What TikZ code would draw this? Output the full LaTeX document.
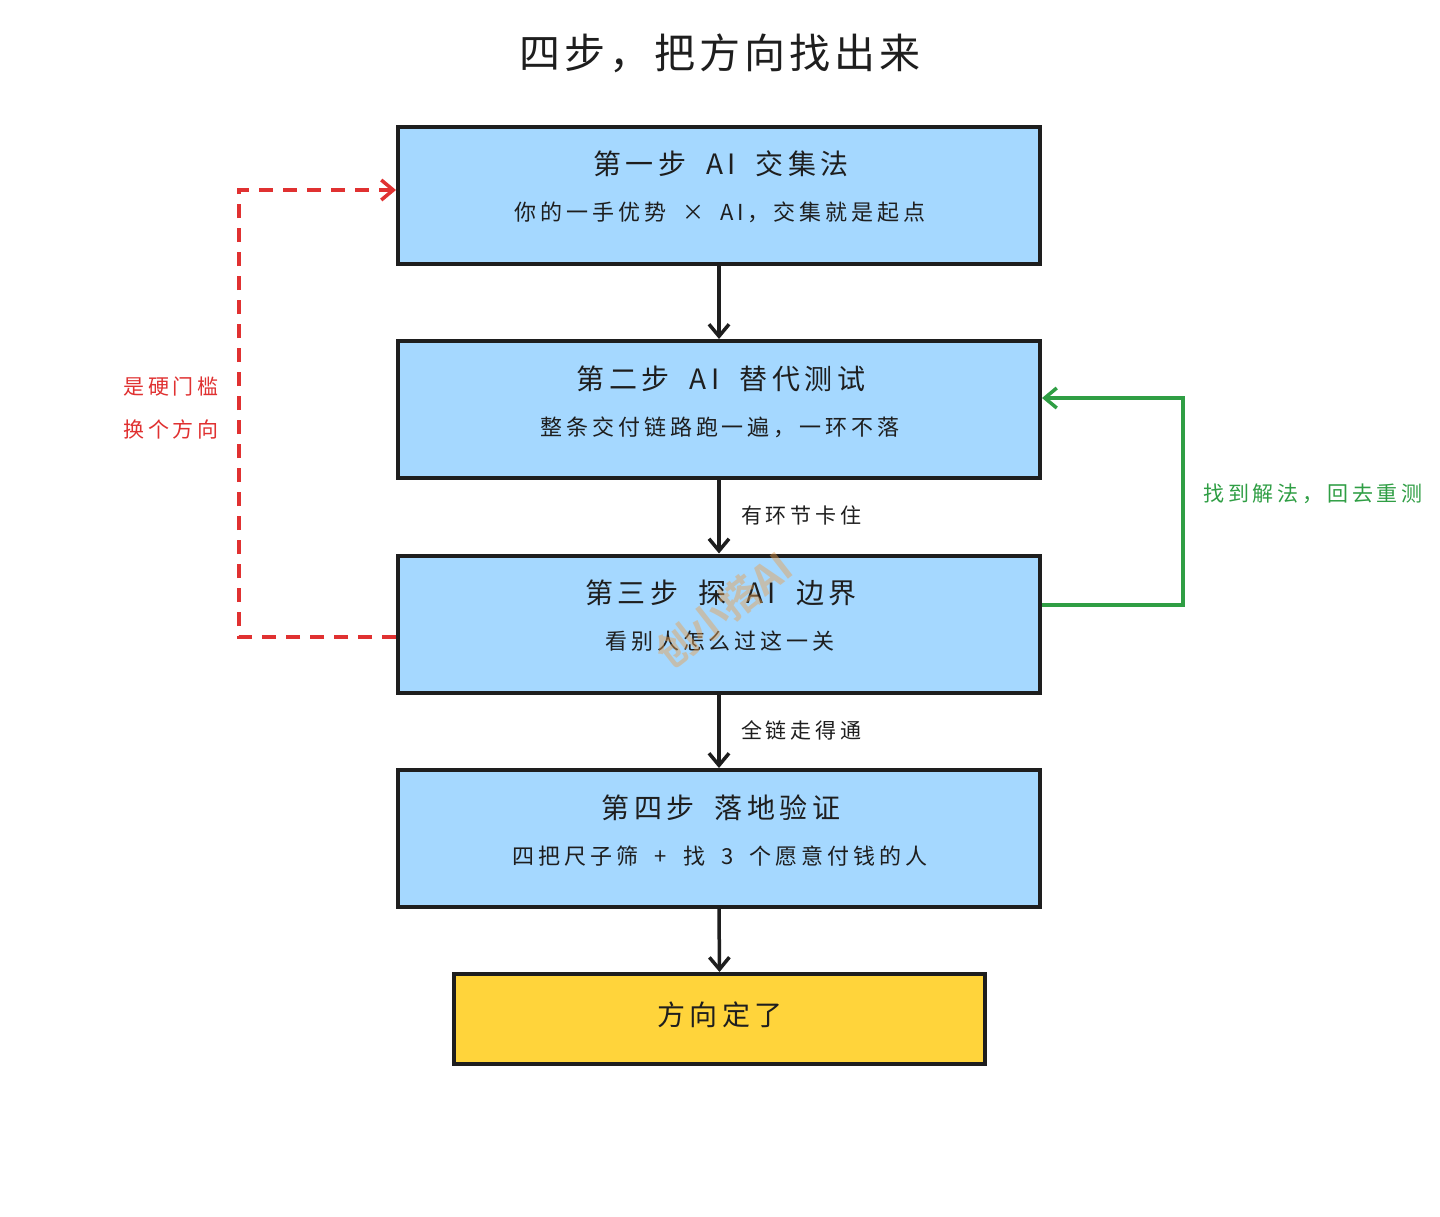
\documentclass[tikz,border=0pt]{standalone}
\usepackage{fontspec}
\newfontfamily\cjkt{Noto Sans CJK SC}[LetterSpace=16]
\newfontfamily\cjks{Noto Sans CJK SC}[LetterSpace=18]
\newfontfamily\cjkh{Noto Sans CJK SC}[LetterSpace=10]
\newfontfamily\cjkb{Noto Sans CJK SC}[BoldFont={* Bold}]
\usetikzlibrary{arrows.meta}
\definecolor{ink}{HTML}{1E1E1E}
\definecolor{boxblue}{HTML}{A5D8FF}
\definecolor{boxyellow}{HTML}{FFD43B}
\definecolor{redline}{HTML}{E03131}
\definecolor{greenline}{HTML}{2F9E44}
\definecolor{wm}{HTML}{E8A050}
\newcommand{\tgap}{\hspace{20pt}}
\newcommand{\sgap}{\hspace{16pt}}
\tikzset{
  stepbox/.style={draw=ink, line width=4pt, fill=boxblue, minimum width=642pt, minimum height=137pt, inner sep=0pt},
  endbox/.style={draw=ink, line width=4pt, fill=boxyellow, minimum width=531pt, minimum height=90pt, inner sep=0pt},
  ttl/.style={font=\cjkt\fontsize{28}{32}\selectfont, text=ink, inner sep=0pt},
  sub/.style={font=\cjks\fontsize{22}{26}\selectfont, text=ink, inner sep=0pt},
  lbl/.style={font=\cjks\fontsize{21}{24}\selectfont, inner sep=0pt},
  arr/.style={draw=ink, line width=3.5pt, -{Straight Barb[length=12pt,width=20pt,line width=3.5pt]}},
  redarr/.style={draw=redline, line width=3.5pt, dash pattern=on 14pt off 10pt, -{Straight Barb[length=12pt,width=20pt,line width=3.5pt]}},
  greenarr/.style={draw=greenline, line width=3.5pt, -{Straight Barb[length=12pt,width=20pt,line width=3.5pt]}}
}
\begin{document}
\begin{tikzpicture}[x=1pt,y=-1pt]
\useasboundingbox[fill=white] (0,0) rectangle (1440,1216);
\node[font=\cjkh\fontsize{41}{46}\selectfont, text=ink, inner sep=0pt] (title) at (720,53) {四步，把方向找出来};

\node[stepbox] (b1) at (719,195.5) {};
\node[stepbox] (b2) at (719,409.5) {};
\node[stepbox] (b3) at (719,624) {};
\node[stepbox] (b4) at (719,838.5) {};
\node[endbox] (b5) at (719.5,1019) {};

\node[ttl] (t1) at (721,164) {第一步\tgap AI\tgap 交集法};
\node[sub] (s1) at (720,212) {你的一手优势\sgap ×\sgap AI，交集就是起点};
\node[ttl] (t2) at (721,379) {第二步\tgap AI\tgap 替代测试};
\node[sub] (s2) at (720,427) {整条交付链路跑一遍，一环不落};
\node[ttl] (t3) at (721,593) {第三步\tgap 探\tgap AI\tgap 边界};
\node[sub] (s3) at (720,641) {看别人怎么过这一关};
\node[ttl] (t4) at (721,808) {第四步\tgap 落地验证};
\node[sub] (s4) at (720,856) {四把尺子筛\sgap +\sgap 找\sgap 3\sgap 个愿意付钱的人};
\node[ttl] (t5) at (720,1015) {方向定了};

\node[font=\cjkb\bfseries\fontsize{40}{42}\selectfont, text=wm, opacity=0.45, rotate=38, inner sep=0pt] (wmark) at (724,610) {创小搭AI};

\draw[arr] (b1.south) -- (b2.north);
\draw[arr] (b2.south) -- (b3.north);
\draw[arr] (b3.south) -- (b4.north);
\draw[arr] (b4.south) -- (b5.north);

\node[lbl, text=ink, anchor=west] (l1) at (741,515) {有环节卡住};
\node[lbl, text=ink, anchor=west] (l2) at (741,730) {全链走得通};

\coordinate (rl) at (239,0);
\draw[redarr] ([yshift=-13pt]b3.west) -| (rl |- 0,190) -- ([yshift=5.5pt]b1.west);
\node[lbl, text=redline] (r1) at (171,387) {是硬门槛};
\node[lbl, text=redline] (r2) at (171,429) {换个方向};

\coordinate (gr) at (1183,0);
\draw[greenarr] ([yshift=19pt]b3.east) -| (gr |- 0,398) -- ([yshift=11.5pt]b2.east);
\node[lbl, text=greenline] (g1) at (1313,494) {找到解法，回去重测};
\end{tikzpicture}
\end{document}
